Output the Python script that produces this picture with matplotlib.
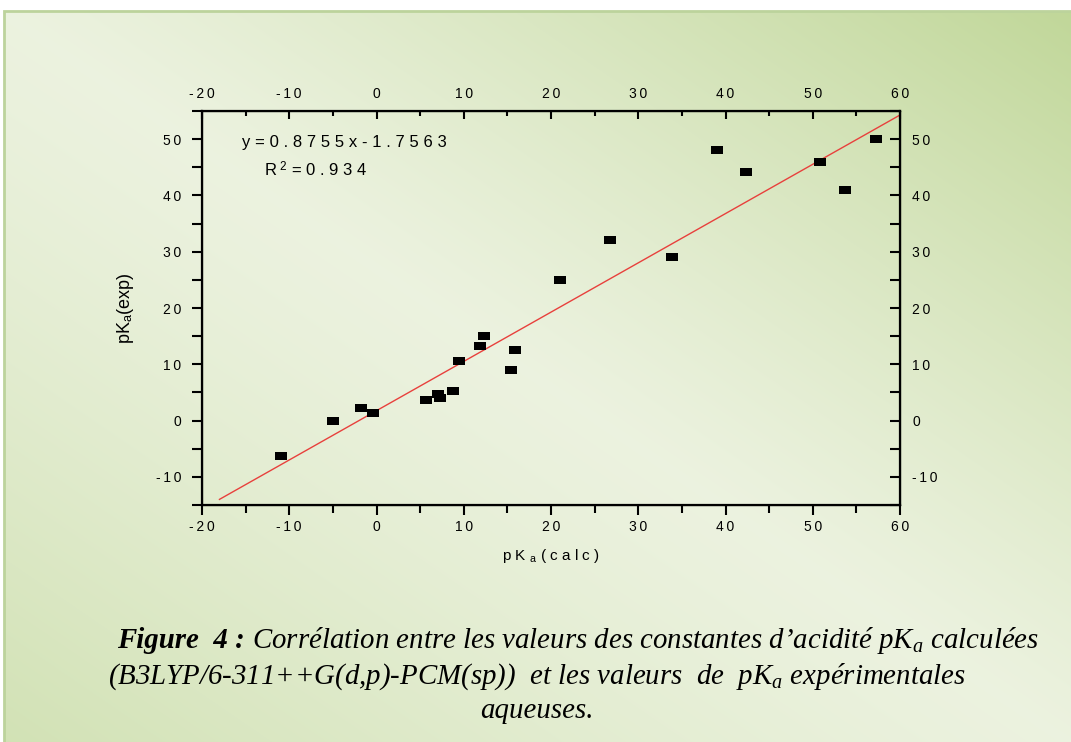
import numpy as np
import matplotlib.pyplot as plt
from matplotlib.ticker import MultipleLocator
from matplotlib.patches import Rectangle

# values
pka_calc = [-11.0, -5.0, -1.8, -0.4, 5.7, 7.1, 7.3, 8.8, 9.5, 11.9, 12.3,
            15.4, 15.9, 21.0, 26.8, 33.9, 39.0, 42.4, 50.8, 53.7, 57.3]
pka_exp = [-6.3, 0.0, 2.2, 1.3, 3.7, 4.8, 4.0, 5.2, 10.6, 13.3, 15.0,
           9.0, 12.5, 25.0, 32.0, 29.0, 48.1, 44.1, 46.0, 41.0, 50.0]
slope = 0.8755
intercept = 1.7563
fit_x = [-18, 60]
x_ticks = [-20, -10, 0, 10, 20, 30, 40, 50, 60]
y_ticks = [-10, 0, 10, 20, 30, 40, 50]
eq_text = 'y=0.8755x-1.7563'
r2_text = '0.934'

plt.rcParams['mathtext.fontset'] = 'custom'
plt.rcParams['mathtext.rm'] = 'Liberation Sans'
plt.rcParams['mathtext.it'] = 'Liberation Serif:italic'
plt.rcParams['font.family'] = ['Liberation Sans', 'DejaVu Sans']

TS = '\u2009'
WS = '\u2009\u200a'


def spaced(s, sep=TS):
    return sep.join(s)


W, H = 1071, 742
fig = plt.figure(figsize=(W / 100, H / 100), dpi=100)

# background panel with a soft green gradient
bg = fig.add_axes([0, 0, 1, 1], zorder=-10)
bg.set_xlim(0, W)
bg.set_ylim(H, 0)
bg.axis('off')
u = np.linspace(0, 1, W)[None, :]
v = np.linspace(0, 1, H)[:, None]
d = u - v
t = np.where(d > 0, np.abs(d) ** 1.2, 0.6 * np.abs(d) ** 1.3)
light = np.array([0.925, 0.950, 0.875])
dark = np.array([0.755, 0.843, 0.600])
img = light[None, None, :] * (1 - t[..., None]) + dark[None, None, :] * t[..., None]
bg.imshow(img, extent=(4, W, H, 11), aspect='auto', interpolation='bilinear')
bg.add_patch(Rectangle((4, 11), W - 3, H - 10, fill=False, edgecolor='#bcd39c', linewidth=2))

# main plot
ax = fig.add_axes([202 / W, 1 - 505 / H, 698 / W, 394 / H])
ax.patch.set_alpha(0)
ax.plot(fit_x, [slope * x + intercept for x in fit_x], color='#e8403c', linewidth=1.0)
rect = [(-1, -0.65), (1, -0.65), (1, 0.65), (-1, 0.65), (-1, -0.65)]
ax.plot(pka_calc, pka_exp, linestyle='none', marker=rect, markersize=8.5,
        color='black', markeredgewidth=0)
ax.set_xlim(-20, 60)
ax.set_ylim(-15, 55)
ax.set_xticks(x_ticks)
ax.set_xticklabels([spaced(str(v)) for v in x_ticks])
ax.set_yticks(y_ticks)
ax.set_yticklabels([spaced(str(v)) for v in y_ticks])
ax.xaxis.set_minor_locator(MultipleLocator(5))
ax.yaxis.set_minor_locator(MultipleLocator(5))
ax.tick_params(which='major', direction='out', length=7, width=1.5, labelsize=10)
ax.tick_params(which='minor', direction='out', length=6, width=1.5)
ax.tick_params(axis='x', pad=4)
ax.tick_params(axis='y', which='both', length=7, pad=8)
for s in ax.spines.values():
    s.set_linewidth(1.6)

axt = ax.twiny()
axt.set_xlim(ax.get_xlim())
axt.set_xticks(x_ticks)
axt.set_xticklabels([spaced(str(v)) for v in x_ticks])
axt.xaxis.set_minor_locator(MultipleLocator(5))
axt.tick_params(which='major', direction='in', length=6, width=1.5, labelsize=10, pad=7)
axt.tick_params(which='minor', direction='in', length=3.5, width=1.5)

axr = ax.twinx()
axr.set_ylim(ax.get_ylim())
axr.set_yticks(y_ticks)
axr.set_yticklabels([spaced(str(v)) for v in y_ticks])
axr.yaxis.set_minor_locator(MultipleLocator(5))
axr.tick_params(which='both', direction='in', length=7, width=1.5, labelsize=10, pad=9)

ax.set_xlabel(spaced('pK', WS) + WS + r'$_\mathregular{a}$' + WS + spaced('(calc)', WS),
              fontsize=11, labelpad=9)
ax.set_ylabel(r'pK$_\mathregular{a}$(exp)', fontsize=13, labelpad=14)

ax.text(0.057, 0.921, spaced(eq_text, WS), transform=ax.transAxes, fontsize=12, va='center')
ax.text(0.089, 0.850, 'R' + TS + r'$^\mathregular{2}$' + WS + spaced('=' + r2_text, WS),
        transform=ax.transAxes, fontsize=12, va='center')

# caption, drawn piece by piece so the bold part can sit inline
fig.canvas.draw()
renderer = fig.canvas.get_renderer()
serif = 'Liberation Serif'
cap_size = 20.8


def put_line(parts, y, x0=None, center=None):
    texts = []
    for s, weight in parts:
        tt = fig.text(0, 1 - y / H, s, fontsize=cap_size, family=serif, style='italic',
                      weight=weight, va='baseline', ha='left')
        texts.append(tt)
    widths = [tt.get_window_extent(renderer).width for tt in texts]
    total = sum(widths)
    x = x0 if x0 is not None else center - total / 2
    for tt, w in zip(texts, widths):
        tt.set_x(x / W)
        x += w


put_line([('Figure  4 :', 'bold'),
          (' Corrélation entre les valeurs des constantes d\u2019acidité pK$_a$ calculées', 'normal')],
         648, x0=117)
put_line([('(B3LYP/6-311++G(d,p)-PCM(sp))  et les valeurs  de  pK$_a$ expérimentales', 'normal')],
         684, center=537)
put_line([('aqueuses.', 'normal')], 718, center=537)

fig.savefig('out.png', dpi=100)
